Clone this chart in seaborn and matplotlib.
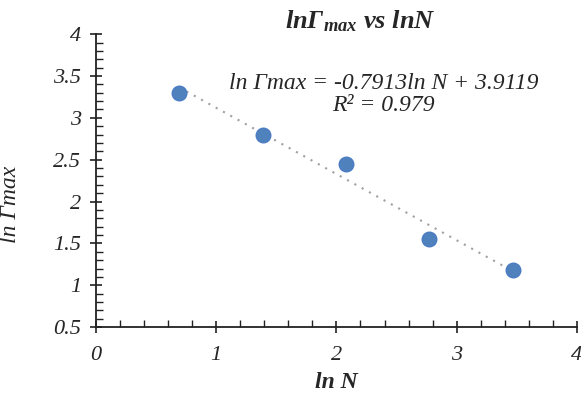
import numpy as np
import pandas as pd
import matplotlib
matplotlib.use("Agg")
import matplotlib.pyplot as plt
import seaborn as sns
from matplotlib.ticker import MultipleLocator, FuncFormatter

ln_n = [0.693, 1.386, 2.079, 2.773, 3.466]
ln_gmax = [3.30, 2.80, 2.45, 1.55, 1.18]
slope, intercept = -0.7913, 3.9119

sns.set_theme(style="ticks")
plt.rcParams["font.family"] = "serif"
plt.rcParams["font.serif"] = ["Liberation Serif", "DejaVu Serif"]
plt.rcParams["mathtext.fontset"] = "custom"
plt.rcParams["mathtext.it"] = "Liberation Serif:bold:italic"
plt.rcParams["mathtext.rm"] = "Liberation Serif:bold:italic"

df = pd.DataFrame({"ln N": ln_n, "ln Gmax": ln_gmax})

fig = plt.figure(figsize=(5.81, 3.97), dpi=100)
ax = fig.add_axes([0.165, 0.176, 0.828, 0.738])

fit_x = np.array([ln_n[0], ln_n[-1]])
ax.plot(fit_x, slope * fit_x + intercept, linestyle=(0, (1, 3)), color="#a0a0a0", lw=1.5, zorder=1)
sns.scatterplot(data=df, x="ln N", y="ln Gmax", ax=ax, s=110, color="#4f81bd",
                edgecolor="#4a7cc4", linewidth=1, zorder=3)

ax.set_xlim(0, 4)
ax.set_ylim(0.5, 4)
ax.xaxis.set_major_locator(MultipleLocator(1))
ax.xaxis.set_minor_locator(MultipleLocator(0.2))
ax.yaxis.set_major_locator(MultipleLocator(0.5))
ax.yaxis.set_minor_locator(MultipleLocator(0.1))
fmt = FuncFormatter(lambda v, p: f"{v:g}")
ax.xaxis.set_major_formatter(fmt)
ax.yaxis.set_major_formatter(fmt)
ax.tick_params(which="major", direction="inout", length=9, width=1.2, color="#222222")
ax.tick_params(which="minor", direction="in", length=5, width=1.0, color="#222222")
ax.tick_params(axis="x", which="major", pad=9)
ax.tick_params(axis="y", which="major", pad=6)
ax.tick_params(labelsize=16)
for lab in ax.get_xticklabels() + ax.get_yticklabels():
    lab.set_fontstyle("italic")
sns.despine(ax=ax)
for s in ["left", "bottom"]:
    ax.spines[s].set_linewidth(1.3)
    ax.spines[s].set_color("#222222")

ax.set_xlabel("ln N", fontsize=17, fontweight="bold", fontstyle="italic", labelpad=5)
ax.set_ylabel("ln Γmax", fontsize=17, fontstyle="italic")
ax.yaxis.set_label_coords(-0.155, 0.42)
ax.set_title(r"$ln\Gamma_{max}$ vs lnN", fontsize=19, fontweight="bold", fontstyle="italic", pad=4, x=0.55)

ax.text(2.39, 3.28, "ln Γmax = -0.7913ln N + 3.9119\nR² = 0.979", ha="center", va="center",
        fontsize=17, fontstyle="italic", linespacing=1.05)

fig.savefig("out.png", dpi=100)
